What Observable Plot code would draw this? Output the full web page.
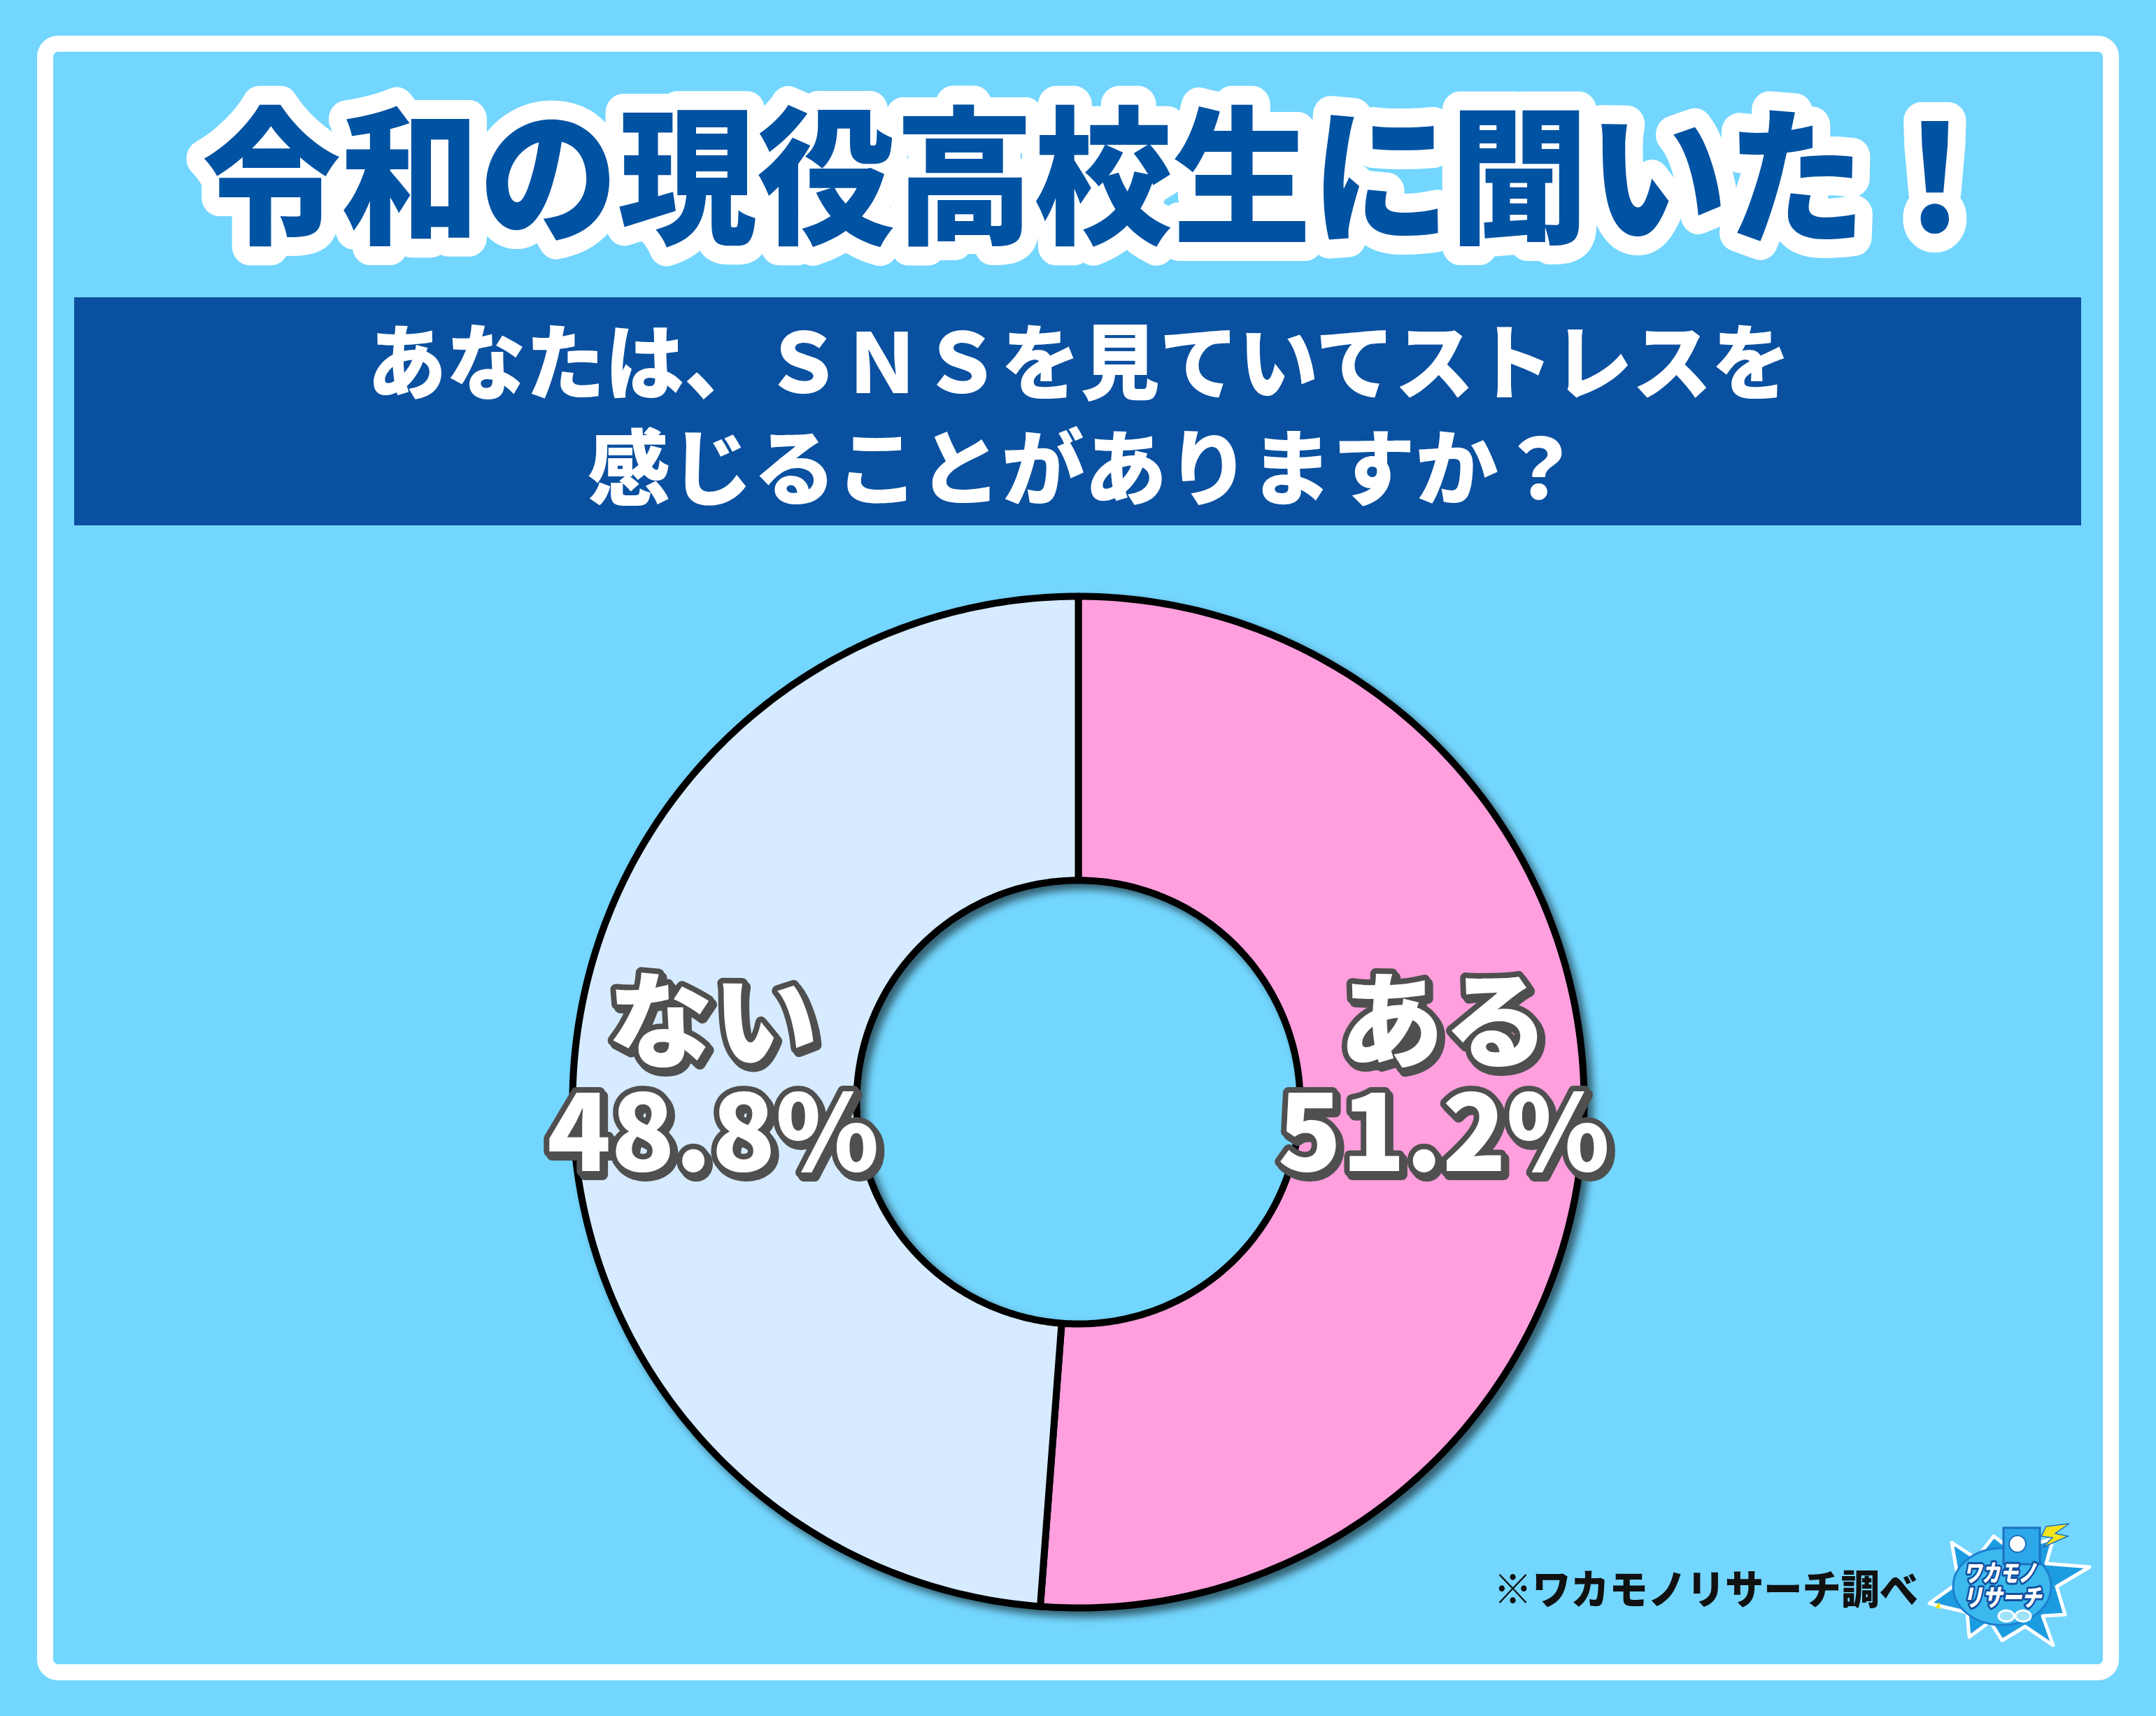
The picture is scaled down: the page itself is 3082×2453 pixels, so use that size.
<!DOCTYPE html>
<html lang="ja">
<head>
<meta charset="utf-8">
<script src="https://cdn.jsdelivr.net/npm/d3@7"></script>
<script src="https://cdn.jsdelivr.net/npm/@observablehq/plot@0.6"></script>
<style>
  html, body { margin: 0; padding: 0; }
  body { width: 3082px; height: 2453px; background: #73D6FE; position: relative; overflow: hidden;
         font-family: "Noto Sans CJK JP", "Noto Sans", sans-serif; }
  #frame { position: absolute; left: 53px; top: 51px; width: 2930px; height: 2305px;
           border: 23px solid #ffffff; border-radius: 30px; }
  #deco { position: absolute; left: 0; top: 0; }
  #chart { position: absolute; left: 781px; top: 815px; }
  #chart svg { overflow: visible; }
</style>
</head>
<body>
<div id="frame"></div>
<svg id="deco" width="3082" height="2453" xmlns="http://www.w3.org/2000/svg">
  <rect x="106" y="425" width="2869" height="326" fill="#0A50A0"/>
  <g font-family="'Noto Sans CJK JP', sans-serif" font-weight="900">
    <text id="title" x="289" y="332" font-size="212" textLength="2576" lengthAdjust="spacingAndGlyphs"
          fill="#0052A3" stroke="#ffffff" stroke-width="54" stroke-linejoin="round" paint-order="stroke">令和の現役高校生に聞いた！</text>
    <text x="525" y="562" font-size="118" textLength="2035" lengthAdjust="spacingAndGlyphs" fill="#ffffff">あなたは、ＳＮＳを見ていてストレスを</text>
    <text x="840" y="713" font-size="118" textLength="1420" lengthAdjust="spacingAndGlyphs" fill="#ffffff">感じることがありますか？</text>
    <text x="2135" y="2293" font-size="58" textLength="607" lengthAdjust="spacingAndGlyphs" fill="#111111">※ワカモノリサーチ調べ</text>
  </g>
  <!-- logo -->
  <g id="logo">
    <polygon points="2758,2292 2800,2262 2790,2205 2825,2228 2850,2196 2875,2215 2935,2200 2925,2235 2987,2240 2940,2268 2952,2308 2920,2310 2935,2352 2895,2325 2862,2345 2845,2318 2815,2340 2812,2305"
             fill="#1C9CE0" stroke="#ffffff" stroke-width="5" stroke-linejoin="round"/>
    <ellipse cx="2862" cy="2268" rx="70" ry="55" fill="#3BB9EE" stroke="#1D7FD0" stroke-width="3"/>
    <rect x="2864" y="2184" width="52" height="52" fill="#2CA8E8" stroke="#1D6FC0" stroke-width="3"/>
    <circle cx="2884" cy="2207" r="12" fill="#ffffff" stroke="#1D6FC0" stroke-width="2"/>
    <polygon points="2925,2182 2958,2178 2938,2192 2956,2196 2920,2212 2934,2198 2918,2196" fill="#F3E21C" stroke="#1D6FC0" stroke-width="1.5"/>
    <text font-family="'Noto Sans CJK JP', sans-serif" font-weight="900" font-style="italic" fill="#ffffff"
       stroke="#12509F" stroke-width="6" paint-order="stroke" stroke-linejoin="round" font-size="34" text-anchor="middle">
      <tspan x="2863" y="2261" textLength="104" lengthAdjust="spacingAndGlyphs">ワカモノ</tspan>
      <tspan x="2862" y="2296" textLength="112" lengthAdjust="spacingAndGlyphs">リサーチ</tspan>
    </text>
    <ellipse cx="2868" cy="2310" rx="11" ry="8" fill="#9FE3FB" stroke="#ffffff" stroke-width="3"/>
    <ellipse cx="2892" cy="2310" rx="11" ry="8" fill="#9FE3FB" stroke="#ffffff" stroke-width="3"/>
    <polygon points="2766,2298 2772,2290 2774,2300" fill="#F3E21C"/>
  </g>
</svg>
<div id="chart"></div>
<script>
// ---- data ----
const categories = ["ある", "ない"];
const values = [51.2, 48.8];
const sliceColors = ["#FF9FDD", "#D6EBFF"];
const innerRatio = 0.4385;

const slices = d3.pie().sort(null).value(d => d.value)(
  categories.map((c, i) => ({cat: c, value: values[i]}))
);

// annular sector outlines derived from the pie angles
const ringPoints = [];
slices.forEach(s => {
  const n = 240;
  const pts = [];
  for (let k = 0; k <= n; k++) {
    const a = s.startAngle + (s.endAngle - s.startAngle) * k / n;
    pts.push({cat: s.data.cat, x: Math.sin(a), y: Math.cos(a)});
  }
  for (let k = n; k >= 0; k--) {
    const a = s.startAngle + (s.endAngle - s.startAngle) * k / n;
    pts.push({cat: s.data.cat, x: innerRatio * Math.sin(a), y: innerRatio * Math.cos(a)});
  }
  pts.push({...pts[0]});
  ringPoints.push(...pts);
});

const labelRadius = (1 + innerRatio) / 2 * 1.005;
const labels = slices.map(s => {
  const a = (s.startAngle + s.endAngle) / 2;
  return {cat: s.data.cat, label: s.data.cat + "\n" + s.data.value.toFixed(1) + "%",
          x: labelRadius * Math.sin(a), y: 0};
});

const chart = Plot.plot({
  width: 1520, height: 1520, margin: 37,
  x: {domain: [-1, 1], axis: null},
  y: {domain: [-1, 1], axis: null},
  color: {domain: categories, range: sliceColors},
  style: {background: "transparent", overflow: "visible"},
  marks: [
    Plot.line(ringPoints, {x: "x", y: "y", z: "cat", fill: "cat", stroke: "#000000",
      strokeWidth: 10, strokeLinejoin: "round", curve: "linear"}),
    Plot.text(labels, {x: "x", y: "y", text: "label", dy: -32, lineHeight: 1.06,
      fontFamily: '"Noto Sans CJK JP", sans-serif', fontWeight: 900, fontSize: 150,
      textAnchor: "middle", lineAnchor: "middle",
      fill: "#ffffff", stroke: "#505050", strokeWidth: 16, strokeLinejoin: "round"})
  ]
});

const svg = d3.select(chart);
svg.append("defs").html(
  '<filter id="ringShadow" x="-10%" y="-10%" width="130%" height="130%">' +
  '<feDropShadow dx="8" dy="8" stdDeviation="6" flood-color="#000" flood-opacity="0.55"/></filter>' +
  '<filter id="labelShadow" x="-10%" y="-10%" width="130%" height="130%">' +
  '<feOffset in="SourceGraphic" dx="4" dy="5" result="off"/>' +
  '<feFlood flood-color="#505050" result="col"/>' +
  '<feComposite in="col" in2="off" operator="in" result="sh"/>' +
  '<feMerge><feMergeNode in="sh"/><feMergeNode in="SourceGraphic"/></feMerge></filter>'
);
svg.select('g[aria-label="line"]').attr("filter", "url(#ringShadow)");
svg.select('g[aria-label="text"]').attr("filter", "url(#labelShadow)");

document.getElementById("chart").appendChild(chart);
</script>
</body>
</html>
